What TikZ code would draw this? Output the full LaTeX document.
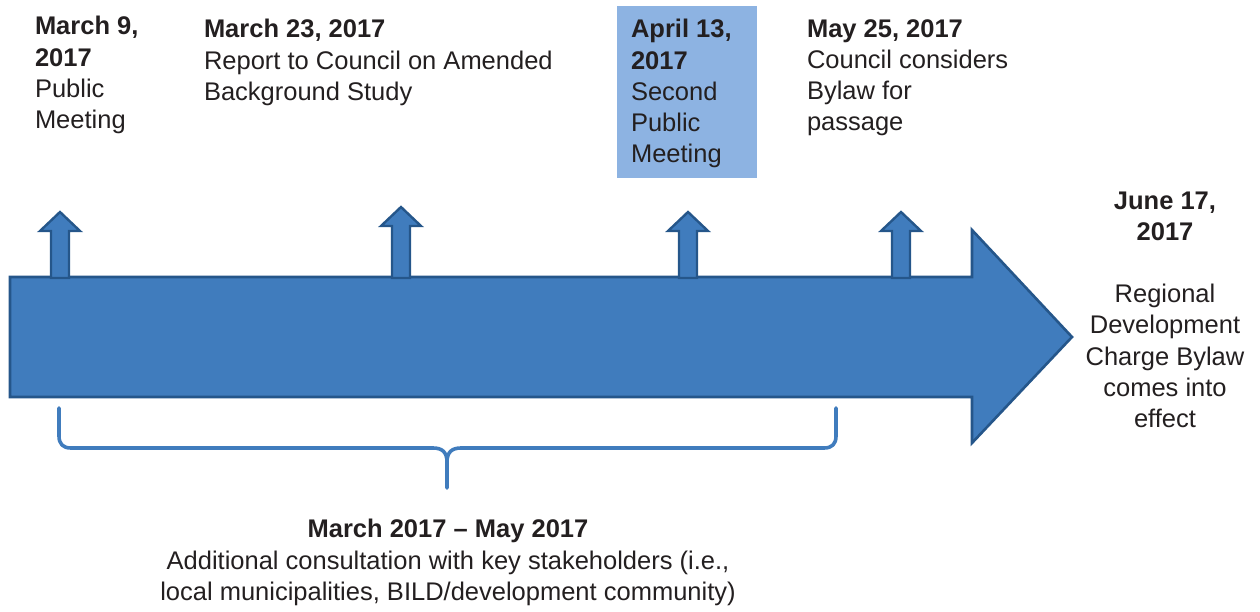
\documentclass[tikz,border=0pt]{standalone}
\usepackage{fontspec}
\setmainfont{Liberation Sans}
\definecolor{arrowfill}{RGB}{64,124,189}
\definecolor{arrowline}{RGB}{37,86,138}
\definecolor{hilite}{RGB}{141,179,226}
\definecolor{txt}{RGB}{35,31,32}
\begin{document}
\begin{tikzpicture}[x=1pt,y=-1pt,
  blocktext/.style={inner sep=0pt,outer sep=0pt,text=txt,font=\fontsize{25.5}{31.2}\selectfont},
  shapeblue/.style={fill=arrowfill,draw=arrowline,line width=2.6pt,line join=miter},
  bracestyle/.style={draw=arrowfill,line width=3.6pt,line cap=round,line join=round}]
\useasboundingbox (0,0) rectangle (1260,612);
% highlight box
\fill[hilite] (617,6) rectangle (757,178);
% big arrow
\draw[shapeblue] (10,277) -- (972,277) -- (972,230) -- (1072,337) -- (972,443) -- (972,397) -- (10,397) -- cycle;
% small arrows
\foreach \cx/\ty in {60/212, 401/207, 688/212, 901/212}{
  \draw[shapeblue,line width=2.4pt] (\cx,\ty) -- (\cx+20,\ty+19) -- (\cx+9,\ty+19) -- (\cx+9,278) -- (\cx-9,278) -- (\cx-9,\ty+19) -- (\cx-20,\ty+19) -- cycle;
}
% brace
\draw[bracestyle] (59,408) -- (59,436) .. controls (59,444) and (63,448) .. (71,448) -- (433,448) .. controls (442,448) and (447,452) .. (447,462) -- (447,488);
\draw[bracestyle] (836,408) -- (836,436) .. controls (836,444) and (832,448) .. (824,448) -- (461,448) .. controls (452,448) and (447,452) .. (447,462);
% texts
\node[blocktext,anchor=north west,align=left] (t1) at (35,16.5) {\textbf{March 9,}\\\textbf{2017}\\Public\\Meeting};
\node[blocktext,anchor=north west,align=left] (t2) at (204,19.5) {\textbf{March 23, 2017}\\Report to Council on Amended\\Background Study};
\node[blocktext,anchor=north west,align=left] (t3) at (631,19.5) {\textbf{April 13,}\\\textbf{2017}\\Second\\Public\\Meeting};
\node[blocktext,anchor=north west,align=left] (t4) at (807,19.5) {\textbf{May 25, 2017}\\Council considers\\Bylaw for\\passage};
\node[blocktext,anchor=north,align=center] (t5) at (1165,191.5) {\textbf{June 17,}\\\textbf{2017}\\[31.2pt]Regional\\Development\\Charge Bylaw\\comes into\\effect};
\node[blocktext,anchor=north,align=center] (t6) at (448,519.5) {\textbf{March 2017 – May 2017}\\Additional consultation with key stakeholders (i.e.,\\local municipalities, BILD/development community)};
\end{tikzpicture}
\end{document}
